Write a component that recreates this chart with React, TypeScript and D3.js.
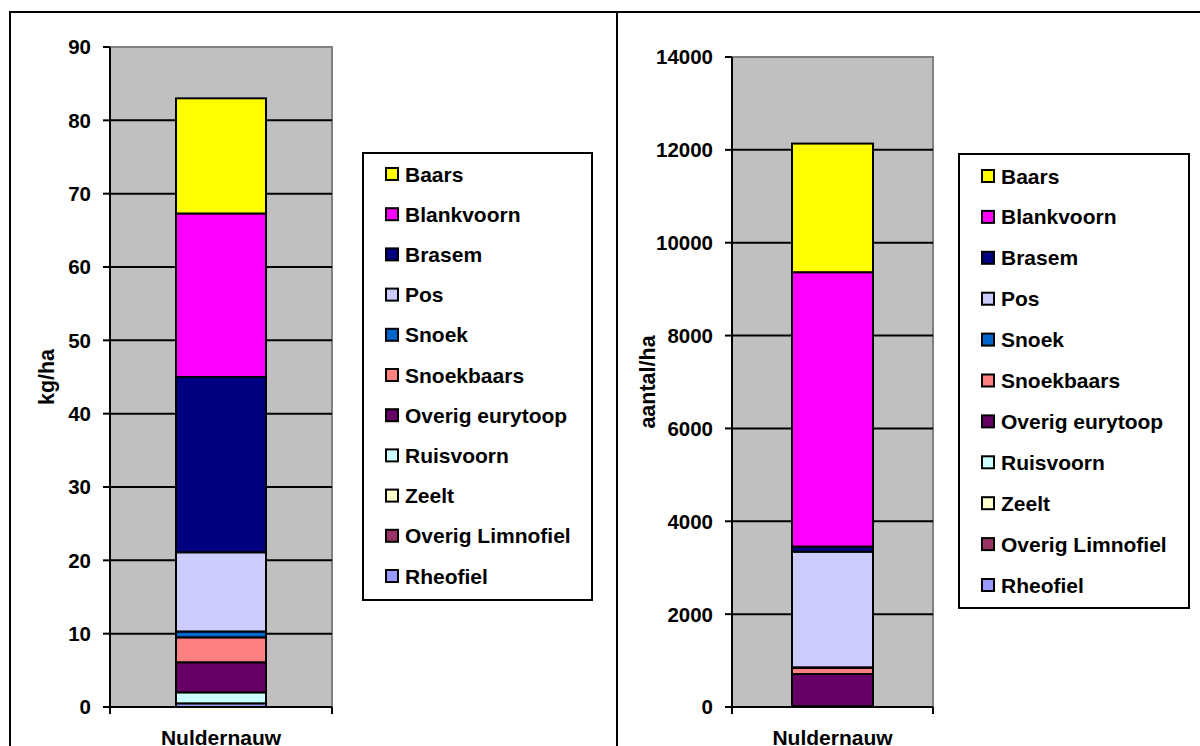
import React from "react";
import * as d3 from "d3";

// Species groups, drawn bottom-up in the stack; the legend lists them top-down.
const species = [
  "Rheofiel",
  "Overig Limnofiel",
  "Zeelt",
  "Ruisvoorn",
  "Overig eurytoop",
  "Snoekbaars",
  "Snoek",
  "Pos",
  "Brasem",
  "Blankvoorn",
  "Baars",
];

const speciesColors = [
  "#9999FF",
  "#993366",
  "#FFFFCC",
  "#CCFFFF",
  "#660066",
  "#FF8080",
  "#0066CC",
  "#CCCCFF",
  "#000080",
  "#FF00FF",
  "#FFFF00",
];

const category = "Nuldernauw";

// Biomass (kg/ha) per species group
const biomassValues = [0.5, 0, 0, 1.5, 4.1, 3.4, 0.8, 10.8, 23.9, 22.3, 15.7];
const biomassTicks = [0, 10, 20, 30, 40, 50, 60, 70, 80, 90];

// Density (aantal/ha) per species group
const densityValues = [10, 0, 0, 10, 690, 130, 15, 2490, 110, 5910, 2770];
const densityTicks = [0, 2000, 4000, 6000, 8000, 10000, 12000, 14000];

const FONT = "'Liberation Sans', Arial, Helvetica, sans-serif";

type PanelProps = {
  values: number[];
  ticks: number[];
  title: string;
  plot: { x0: number; x1: number; y0: number; y1: number };
  barWidth: number;
  titleX: number;
  legend: { x: number; y: number; w: number; h: number; rowTop: number; rowGap: number };
};

function Panel({ values, ticks, title, plot, barWidth, titleX, legend }: PanelProps) {
  const yMax = ticks[ticks.length - 1];
  const y = d3.scaleLinear().domain([0, yMax]).range([plot.y1, plot.y0]);
  const x = d3
    .scaleBand<string>()
    .domain([category])
    .range([plot.x0, plot.x1]);
  const cx = (x(category) ?? 0) + x.bandwidth() / 2;

  const stack = d3
    .stack<Record<string, number>>()
    .keys(species)([Object.fromEntries(species.map((s, i) => [s, values[i]]))]);

  const legendOrder = species.map((s, i) => i).reverse();
  const midY = (plot.y0 + plot.y1) / 2;

  return (
    <g>
      {/* plot area */}
      <rect
        x={plot.x0}
        y={plot.y0}
        width={plot.x1 - plot.x0}
        height={plot.y1 - plot.y0}
        fill="#C0C0C0"
        stroke="#808080"
        strokeWidth={2}
      />
      {/* gridlines */}
      {ticks.slice(1, -1).map((t) => (
        <line
          key={"g" + t}
          x1={plot.x0}
          x2={plot.x1}
          y1={y(t)}
          y2={y(t)}
          stroke="#000"
          strokeWidth={2}
        />
      ))}
      {/* stacked bar */}
      {stack.map((layer, i) => {
        const [a, b] = layer[0];
        return (
          <rect
            key={species[i]}
            x={cx - barWidth / 2}
            y={y(b)}
            width={barWidth}
            height={Math.max(0, y(a) - y(b))}
            fill={speciesColors[i]}
            stroke="#000"
            strokeWidth={2}
          />
        );
      })}
      {/* axes */}
      <line x1={plot.x0} x2={plot.x0} y1={plot.y0} y2={plot.y1 + 7} stroke="#000" strokeWidth={2} />
      <line x1={plot.x0} x2={plot.x1} y1={plot.y1} y2={plot.y1} stroke="#000" strokeWidth={2} />
      <line x1={plot.x1} x2={plot.x1} y1={plot.y1} y2={plot.y1 + 7} stroke="#000" strokeWidth={2} />
      {ticks.map((t) => (
        <g key={"t" + t}>
          <line x1={plot.x0 - 7} x2={plot.x0} y1={y(t)} y2={y(t)} stroke="#000" strokeWidth={2} />
          <text
            x={plot.x0 - 19}
            y={y(t)}
            dy="0.36em"
            textAnchor="end"
            fontFamily={FONT}
            fontWeight="bold"
            fontSize={20.5}
          >
            {t}
          </text>
        </g>
      ))}
      <text
        x={cx}
        y={745}
        textAnchor="middle"
        fontFamily={FONT}
        fontWeight="bold"
        fontSize={21}
      >
        {category}
      </text>
      <text
        transform={`translate(${titleX},${midY}) rotate(-90)`}
        textAnchor="middle"
        dy="0.35em"
        fontFamily={FONT}
        fontWeight="bold"
        fontSize={21.5}
      >
        {title}
      </text>
      {/* legend */}
      <rect
        x={legend.x}
        y={legend.y}
        width={legend.w}
        height={legend.h}
        fill="#fff"
        stroke="#000"
        strokeWidth={2}
      />
      {legendOrder.map((si, r) => {
        const cy = legend.rowTop + r * legend.rowGap;
        return (
          <g key={"l" + si}>
            <rect
              x={legend.x + 23}
              y={cy - 6}
              width={12}
              height={12}
              fill={speciesColors[si]}
              stroke="#000"
              strokeWidth={2}
            />
            <text
              x={legend.x + 42}
              y={cy}
              dy="0.36em"
              fontFamily={FONT}
              fontWeight="bold"
              fontSize={21}
            >
              {species[si]}
            </text>
          </g>
        );
      })}
    </g>
  );
}

export default function App() {
  return (
    <svg
      width={1200}
      height={746}
      style={{ position: "absolute", left: 0, top: 0, background: "#fff" }}
    >
      {/* outer frames */}
      <rect x={10} y={12} width={607} height={760} fill="#fff" stroke="#000" strokeWidth={2} />
      <rect x={617} y={12} width={620} height={760} fill="#fff" stroke="#000" strokeWidth={2} />
      <Panel
        values={biomassValues}
        ticks={biomassTicks}
        title="kg/ha"
        plot={{ x0: 110, x1: 332, y0: 47, y1: 707 }}
        barWidth={90}
        titleX={46}
        legend={{ x: 363, y: 153, w: 229, h: 447, rowTop: 174, rowGap: 40.2 }}
      />
      <Panel
        values={densityValues}
        ticks={densityTicks}
        title="aantal/ha"
        plot={{ x0: 732, x1: 933, y0: 57, y1: 707 }}
        barWidth={81}
        titleX={647}
        legend={{ x: 959, y: 154, w: 230, h: 454, rowTop: 176, rowGap: 40.9 }}
      />
    </svg>
  );
}
